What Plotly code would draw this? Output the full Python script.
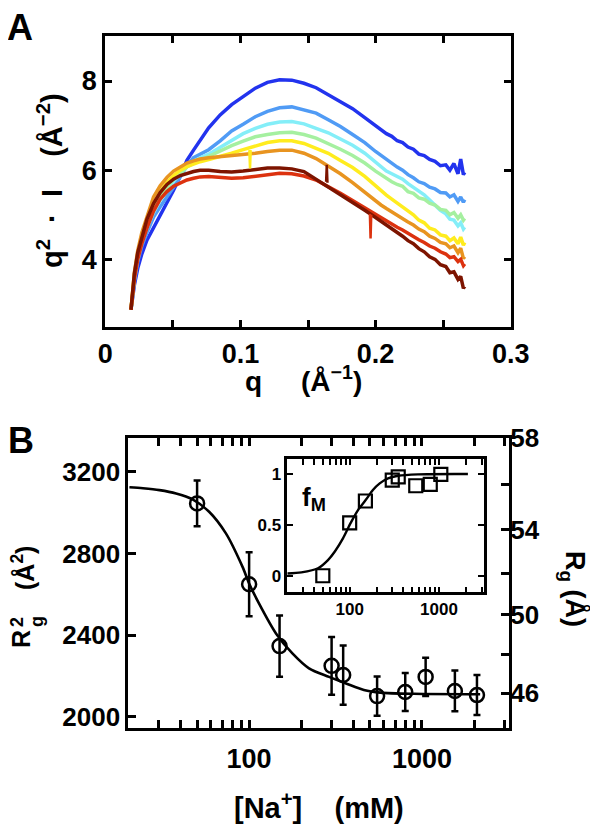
import plotly.graph_objects as go

W, H = 598, 830
OFF = 8  # the page body adds an 8 px margin; positions below are page pixels
FONT = "Liberation Sans, Arial, Helvetica, sans-serif"

# ---------------- Panel A data: q^2*I vs q ----------------
q = [0.019, 0.0215, 0.024, 0.027, 0.0308, 0.0357, 0.0406, 0.0456, 0.0505, 0.0555,
     0.0604, 0.0653, 0.0702, 0.0765, 0.085, 0.0935, 0.102, 0.111, 0.12, 0.129,
     0.138, 0.147, 0.156, 0.165, 0.174, 0.183, 0.192, 0.2, 0.204, 0.208,
     0.212, 0.216, 0.22, 0.224, 0.228, 0.232, 0.236, 0.24, 0.244, 0.248,
     0.252, 0.255, 0.258, 0.261, 0.263, 0.265, 0.266]

I_blue = [2.87, 3.42, 3.8, 4.12, 4.43, 4.7, 4.97, 5.25, 5.55, 5.87,
          6.22, 6.45, 6.67, 6.95, 7.24, 7.47, 7.65, 7.84, 7.97, 8.03,
          8.02, 7.95, 7.85, 7.7, 7.55, 7.38, 7.18, 7.0, 6.9, 6.82,
          6.76, 6.66, 6.62, 6.52, 6.47, 6.36, 6.33, 6.24, 6.2, 6.1,
          6.12, 6.0, 6.15, 5.92, 6.25, 5.9, 5.95]
I_lblue = [2.87, 3.5, 3.95, 4.3, 4.6, 4.95, 5.18, 5.42, 5.62, 5.85,
           6.1, 6.28, 6.36, 6.46, 6.66, 6.88, 7.03, 7.2, 7.32, 7.4,
           7.42, 7.36, 7.28, 7.13, 6.98, 6.8, 6.62, 6.42, 6.33, 6.24,
           6.17, 6.07, 6.0, 5.9, 5.83, 5.74, 5.7, 5.62, 5.58, 5.5,
           5.49, 5.4, 5.45, 5.3, 5.4, 5.28, 5.34]
I_cyan = [2.87, 3.55, 4.0, 4.38, 4.7, 5.05, 5.32, 5.55, 5.75, 5.92,
          6.08, 6.2, 6.28, 6.36, 6.52, 6.68, 6.82, 6.94, 7.03, 7.08,
          7.09, 7.04, 6.95, 6.84, 6.7, 6.56, 6.38, 6.18, 6.08, 5.98,
          5.92, 5.86, 5.8, 5.7, 5.62, 5.52, 5.45, 5.33, 5.22, 5.1,
          5.02, 4.9, 4.88, 4.75, 4.82, 4.68, 4.72]
I_green = [2.87, 3.6, 4.05, 4.42, 4.78, 5.12, 5.4, 5.62, 5.8, 5.95,
           6.07, 6.15, 6.22, 6.3, 6.42, 6.55, 6.65, 6.75, 6.8, 6.84,
           6.85, 6.8, 6.72, 6.6, 6.47, 6.33, 6.16, 5.98, 5.9, 5.8,
           5.74, 5.68, 5.64, 5.52, 5.48, 5.38, 5.35, 5.26, 5.22, 5.12,
           5.1, 5.0, 5.05, 4.92, 5.0, 4.88, 4.92]
I_yellow = [2.87, 3.65, 4.12, 4.5, 4.88, 5.25, 5.52, 5.72, 5.88, 6.0,
            6.08, 6.14, 6.19, 6.24, 6.3, 6.38, 6.46, 6.55, 6.62, 6.66,
            6.66, 6.6, 6.5, 6.38, 6.22, 6.06, 5.86, 5.64, 5.54, 5.44,
            5.35, 5.26, 5.18, 5.08, 5.0, 4.88, 4.82, 4.7, 4.66, 4.55,
            4.52, 4.42, 4.48, 4.35, 4.5, 4.32, 4.38]
I_orange = [2.87, 3.7, 4.2, 4.6, 4.95, 5.4, 5.65, 5.84, 5.98, 6.08,
            6.16, 6.21, 6.25, 6.28, 6.3, 6.32, 6.34, 6.38, 6.42, 6.45,
            6.45, 6.38, 6.26, 6.1, 5.92, 5.72, 5.5, 5.3, 5.22, 5.14,
            5.06, 4.98, 4.92, 4.84, 4.77, 4.68, 4.62, 4.52, 4.47, 4.38,
            4.35, 4.26, 4.3, 4.15, 4.25, 4.02, 4.06]
I_red = [2.87, 3.55, 4.0, 4.35, 4.7, 5.08, 5.35, 5.52, 5.64, 5.72,
         5.78, 5.82, 5.85, 5.86, 5.84, 5.82, 5.83, 5.87, 5.91, 5.93,
         5.92, 5.87, 5.78, 5.64, 5.48, 5.32, 5.15, 5.0, 4.93, 4.86,
         4.79, 4.72, 4.66, 4.58, 4.52, 4.44, 4.38, 4.3, 4.25, 4.17,
         4.12, 4.04, 4.06, 3.95, 4.0, 3.86, 3.9]
I_dred = [2.87, 3.68, 4.15, 4.5, 4.9, 5.25, 5.5, 5.68, 5.8, 5.88,
          5.93, 5.97, 6.0, 6.0, 5.97, 5.96, 5.98, 6.02, 6.05, 6.05,
          6.03, 5.97, 5.8, 5.62, 5.45, 5.28, 5.1, 4.94, 4.86, 4.77,
          4.69, 4.6, 4.52, 4.42, 4.35, 4.24, 4.17, 4.06, 4.0, 3.88,
          3.84, 3.7, 3.72, 3.55, 3.62, 3.35, 3.4]

# narrow glitches seen in three of the curves
spike_yellow_q = [0.1066, 0.1071, 0.1076]
spike_yellow_v = [6.45, 6.04, 6.45]
spike_dred_q = [0.1634, 0.1639, 0.1644]
spike_dred_v = [5.74, 6.12, 5.72]
spike_red_q = [0.1958, 0.1963, 0.1968]
spike_red_v = [5.02, 4.47, 5.0]

colors_A = ["#2233ee", "#509bf5", "#84eef8", "#a5f0a0",
            "#ffec1e", "#e89420", "#dc320f", "#7d1400"]
series_A = [I_blue, I_lblue, I_cyan, I_green, I_yellow, I_orange, I_red, I_dred]

# ---------------- Panel B data ----------------
na = [50, 100, 150, 300, 350, 550, 800, 1050, 1550, 2080]
rg2 = [3045, 2649, 2346, 2249, 2204, 2101, 2121, 2195, 2126, 2106]
rg2_err = [112, 157, 150, 142, 145, 96, 93, 94, 100, 98]

fit_na = [20.3, 24.3, 30.3, 37.8, 47.1, 58.7, 73.4, 91.6, 100, 114,
          143, 178, 222, 290, 370, 461, 575, 896, 2170]
fit_rg2 = [3124, 3119, 3110, 3094, 3065, 3004, 2898, 2734, 2653, 2555,
           2408, 2310, 2237, 2195, 2160, 2131, 2118, 2112, 2110]

# inset: fraction f_M
fm_na = [50, 100, 150, 300, 350, 550, 800, 1050]
fm = [0.0, 0.52, 0.735, 0.94, 0.973, 0.885, 0.899, 0.997]
fmfit_na = [20, 28.8, 44.2, 57.1, 67.9, 84.1, 102, 124, 151, 182, 217, 269, 348, 582, 2113]
fmfit = [0.022, 0.033, 0.073, 0.154, 0.236, 0.368, 0.515, 0.646, 0.744, 0.843,
         0.908, 0.958, 0.983, 0.997, 1.0]

rg_ticks = [46, 48, 50, 52, 54, 56, 58]
rg_labels = ["46", "", "50", "", "54", "", "58"]
log_ticks = [20, 30, 40, 50, 60, 70, 80, 90, 100, 200, 300, 400, 500, 600, 700,
             800, 900, 1000, 2000, 3000]
log_labels = ["100" if v == 100 else "1000" if v == 1000 else "" for v in log_ticks]

fig = go.Figure()

for vals, col in zip(series_A, colors_A):
    fig.add_trace(go.Scatter(x=q, y=vals, mode="lines", line=dict(color=col, width=3.5),
                             xaxis="x", yaxis="y", showlegend=False, hoverinfo="skip"))
for sq, sv, col in [(spike_yellow_q, spike_yellow_v, colors_A[4]),
                    (spike_dred_q, spike_dred_v, colors_A[7]),
                    (spike_red_q, spike_red_v, colors_A[6])]:
    fig.add_trace(go.Scatter(x=sq, y=sv, mode="lines", line=dict(color=col, width=2.5),
                             xaxis="x", yaxis="y", showlegend=False, hoverinfo="skip"))

fig.add_trace(go.Scatter(x=fit_na, y=fit_rg2, mode="lines",
                         line=dict(color="black", width=2.6, shape="spline", smoothing=0.8),
                         xaxis="x2", yaxis="y2", showlegend=False))
fig.add_trace(go.Scatter(x=na, y=rg2, mode="markers",
                         marker=dict(symbol="circle-open", size=14, color="black",
                                     line=dict(width=2.5, color="black")),
                         error_y=dict(type="data", array=rg2_err, thickness=2.5, width=3.5,
                                      color="black"),
                         xaxis="x2", yaxis="y2", showlegend=False))
# invisible trace so the right-hand R_g axis is drawn
fig.add_trace(go.Scatter(x=[100], y=[2500], mode="markers", marker=dict(opacity=0),
                         xaxis="x2", yaxis="y3", showlegend=False, hoverinfo="skip"))

fig.add_trace(go.Scatter(x=fmfit_na, y=fmfit, mode="lines",
                         line=dict(color="black", width=2.4, shape="spline", smoothing=0.8),
                         xaxis="x3", yaxis="y4", showlegend=False))
fig.add_trace(go.Scatter(x=fm_na, y=fm, mode="markers",
                         marker=dict(symbol="square-open", size=13, color="black",
                                     line=dict(width=2.2, color="black")),
                         xaxis="x3", yaxis="y4", showlegend=False))


def dom(left, right):
    return [(left - OFF) / W, (right - OFF) / W]


def ydom(top, bottom):
    return [1 - (bottom - OFF) / H, 1 - (top - OFF) / H]


common = dict(showline=True, linecolor="black", linewidth=3, ticks="inside",
              tickcolor="black", tickwidth=2.5, showgrid=False, zeroline=False,
              automargin=False)

fig.update_layout(
    width=W, height=H, autosize=False,
    margin=dict(l=0, r=0, t=0, b=0, pad=0, autoexpand=False),
    paper_bgcolor="white", plot_bgcolor="white",
    font=dict(family=FONT, color="black"),
    xaxis=dict(domain=dom(105.3, 510.7), range=[0, 0.3], anchor="y",
               tickvals=[0, 0.05, 0.1, 0.15, 0.2, 0.25, 0.3],
               ticktext=["0", "", "0.1", "", "0.2", "", "0.3"],
               ticklen=7, mirror="ticks", ticklabelstandoff=1,
               tickfont=dict(size=27, family=FONT, weight="bold"), **common),
    yaxis=dict(domain=ydom(36, 326.7), range=[2.49, 9.01], anchor="x",
               tickvals=[4, 6, 8], ticktext=["4", "6", "8"],
               ticklen=7, mirror="ticks", ticklabelstandoff=0,
               tickfont=dict(size=27, family=FONT, weight="bold"), **common),
    xaxis2=dict(domain=dom(128.3, 509.3), type="log", range=[1.30103, 3.50515],
                anchor="y2", tickvals=log_ticks, ticktext=log_labels,
                ticklen=8, mirror="ticks", ticklabelstandoff=5,
                tickfont=dict(size=27, family=FONT, weight="bold"), **common),
    yaxis2=dict(domain=ydom(438.3, 727.7), range=[1946, 3364], anchor="x2",
                tickvals=[2000, 2400, 2800, 3200], ticktext=["2000", "2400", "2800", "3200"],
                ticklen=8, mirror=True, ticklabelstandoff=0,
                tickfont=dict(size=26, family=FONT, weight="bold"), **common),
    yaxis3=dict(range=[1946, 3364], overlaying="y2", side="right", anchor="x2",
                tickvals=[v * v for v in rg_ticks], ticktext=rg_labels,
                ticks="inside", ticklen=8, tickwidth=2.5, tickcolor="black",
                showline=False, showgrid=False, zeroline=False, ticklabelstandoff=0,
                automargin=False,
                tickfont=dict(size=26, family=FONT, weight="bold")),
    xaxis3=dict(domain=dom(287.3, 484), type="log", range=[1.30103, 3.50515],
                anchor="y4", tickvals=log_ticks, ticktext=log_labels,
                ticklen=6, mirror="ticks", ticklabelstandoff=0,
                tickfont=dict(size=17, family=FONT, weight="bold"),
                **{**common, "linewidth": 2.5, "tickwidth": 2}),
    yaxis4=dict(domain=ydom(459.3, 592.3), range=[-0.163, 1.145], anchor="x3",
                tickvals=[0, 0.5, 1], ticktext=["0", "0.5", "1"],
                ticklen=6, mirror="ticks", ticklabelstandoff=0,
                tickfont=dict(size=17, family=FONT, weight="bold"),
                **{**common, "linewidth": 2.5, "tickwidth": 2}),
)


def ann(text, px, py, size, angle=0):
    fig.add_annotation(text=text, x=(px - OFF) / W, y=1 - (py - OFF) / H,
                       xref="paper", yref="paper",
                       showarrow=False, textangle=angle, xanchor="center", yanchor="middle",
                       font=dict(size=size, family=FONT, color="black", weight="bold"))


NB = "&nbsp;"
ann("A", 20, 27, 36)
ann("B", 21, 440, 36)
ann("q" + NB * 5 + "(Å<sup>−1</sup>)", 303, 379, 28)
ann("q<sup>2</sup>" + NB * 2 + "·" + NB * 2 + "I" + NB * 4 + "(Å<sup>−2</sup>)",
    50, 181, 29, -90)
ann("[Na<sup>+</sup>]" + NB * 4 + "(mM)", 319, 806, 29)
# R_g^2 (Å^2) with the 2 stacked over the g
ann("R", 21, 639, 25, -90)
ann("g", 37, 622, 18, -90)
ann("2", 17, 622, 18, -90)
ann("(Å<sup>2</sup>)", 23, 568, 25, -90)
ann("R<sub>g</sub>" + NB + "(Å)", 574, 589, 27, 90)
ann("f<sub>M</sub>", 314, 498, 26)

fig.write_html("out.html")
